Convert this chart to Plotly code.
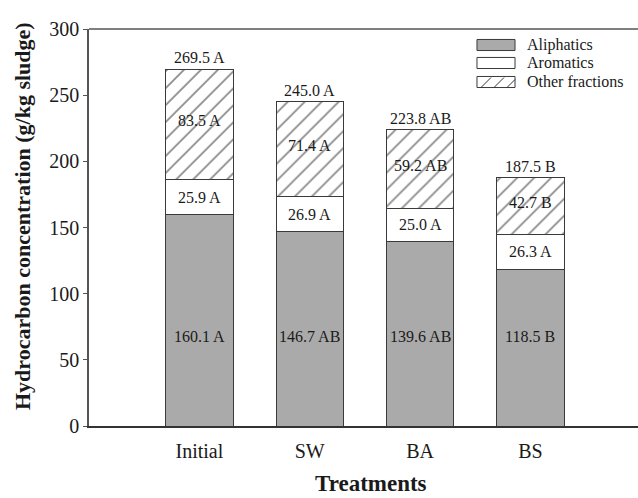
import plotly.graph_objects as go

categories = ["Initial", "SW", "BA", "BS"]
aliphatics = [160.1, 146.7, 139.6, 118.5]
aromatics = [25.9, 26.9, 25.0, 26.3]
others = [83.5, 71.4, 59.2, 42.7]
totals = [269.5, 245.0, 223.8, 187.5]
aliph_letters = ["A", "AB", "AB", "B"]
arom_letters = ["A", "A", "A", "A"]
other_letters = ["A", "A", "AB", "B"]
total_letters = ["A", "A", "AB", "B"]
series_names = ["Aliphatics", "Aromatics", "Other fractions"]
y_ticks = [0, 50, 100, 150, 200, 250, 300]

FONT = "Liberation Serif"
TXT = "#1a1a1a"
EDGE = "#3a3a3a"
BW = 0.61

fig = go.Figure()
fig.add_trace(go.Bar(x=categories, y=aliphatics, name=series_names[0], width=BW,
                     marker=dict(color="#aaaaaa", line=dict(color=EDGE, width=1))))
fig.add_trace(go.Bar(x=categories, y=aromatics, name=series_names[1], width=BW,
                     marker=dict(color="white", line=dict(color=EDGE, width=1))))
fig.add_trace(go.Bar(x=categories, y=others, name=series_names[2], width=BW,
                     marker=dict(color="white", line=dict(color=EDGE, width=1),
                                 pattern=dict(shape="/", size=12, solidity=0.14,
                                              fgcolor="#111111", bgcolor="white"))))

ann = []
lab_font = dict(family=FONT, size=16, color=TXT)
for i, c in enumerate(categories):
    ann.append(dict(x=c, y=68, text=f"{aliphatics[i]:.1f} {aliph_letters[i]}",
                    showarrow=False, font=lab_font, yanchor="middle"))
    ann.append(dict(x=c, y=aliphatics[i] + aromatics[i] / 2,
                    text=f"{aromatics[i]:.1f} {arom_letters[i]}",
                    showarrow=False, font=lab_font, yanchor="middle"))
    ann.append(dict(x=c, y=aliphatics[i] + aromatics[i] + others[i] / 2 + 3,
                    text=f"{others[i]:.1f} {other_letters[i]}",
                    showarrow=False, font=lab_font, yanchor="middle"))
    ann.append(dict(x=c, y=totals[i], text=f"{totals[i]:.1f} {total_letters[i]}",
                    showarrow=False, font=lab_font, yanchor="bottom", yshift=1))

# custom legend (paper coords)
leg_x0, leg_x1 = 0.7067, 0.776
leg_y = [0.9597, 0.9144, 0.8665]
hh = 0.0139
shapes = []
fills = ["#aaaaaa", "white", "white"]
for k in range(3):
    shapes.append(dict(type="rect", xref="paper", yref="paper", x0=leg_x0, x1=leg_x1,
                       y0=leg_y[k] - hh, y1=leg_y[k] + hh, fillcolor=fills[k],
                       line=dict(color=EDGE, width=1)))
    ann.append(dict(xref="paper", yref="paper", x=leg_x1 + 0.018, y=leg_y[k],
                    text=series_names[k], showarrow=False, xanchor="left", yanchor="middle",
                    font=dict(family=FONT, size=16, color=TXT)))
# hatch lines in third legend swatch
pw = 549.0
ph = 397.0
for bx in [481, 494, 507]:
    x0 = (bx - 89) / pw
    x1 = (bx + 10 - 89) / pw
    x1 = min(x1, leg_x1)
    shapes.append(dict(type="line", xref="paper", yref="paper", x0=x0, x1=x1,
                       y0=leg_y[2] - hh, y1=leg_y[2] - hh + (x1 - x0) * pw / ph,
                       line=dict(color="#333333", width=1)))
# top frame line
shapes.append(dict(type="line", xref="paper", yref="paper", x0=0, x1=1, y0=1, y1=1,
                   line=dict(color="#555555", width=1.5)))

# axis titles as annotations
ann.append(dict(xref="paper", yref="paper", x=(371 - 89) / pw, y=(426 - 483) / ph,
                text="<b>Treatments</b>", showarrow=False, xanchor="center", yanchor="middle",
                font=dict(family=FONT, size=23, color=TXT)))
ann.append(dict(xref="paper", yref="paper", x=(22 - 89) / pw, y=(426 - 216) / ph,
                text="<b>Hydrocarbon concentration (g/kg sludge)</b>", showarrow=False,
                textangle=-90, xanchor="center", yanchor="middle",
                font=dict(family=FONT, size=22, color=TXT)))

fig.update_layout(
    width=638, height=498,
    margin=dict(l=89, r=0, t=29, b=72),
    barmode="stack",
    plot_bgcolor="white", paper_bgcolor="white",
    showlegend=False,
    annotations=ann, shapes=shapes,
    font=dict(family=FONT, color=TXT),
)
fig.update_xaxes(range=[-1.0, 3.975], showline=True, linecolor="#333333", linewidth=1.5,
                 ticks="", showgrid=False, tickfont=dict(family=FONT, size=20, color=TXT),
                 ticklabelstandoff=6)
fig.update_yaxes(range=[0, 300], tickvals=y_ticks, showline=True, linecolor="#555555",
                 linewidth=1.5, ticks="outside", ticklen=4, tickcolor="#555555",
                 showgrid=False, zeroline=False,
                 tickfont=dict(family=FONT, size=20, color=TXT))

fig.write_html("out.html", config={"displayModeBar": False},
               post_script="document.body.style.margin='0';document.body.style.overflow='hidden';")
